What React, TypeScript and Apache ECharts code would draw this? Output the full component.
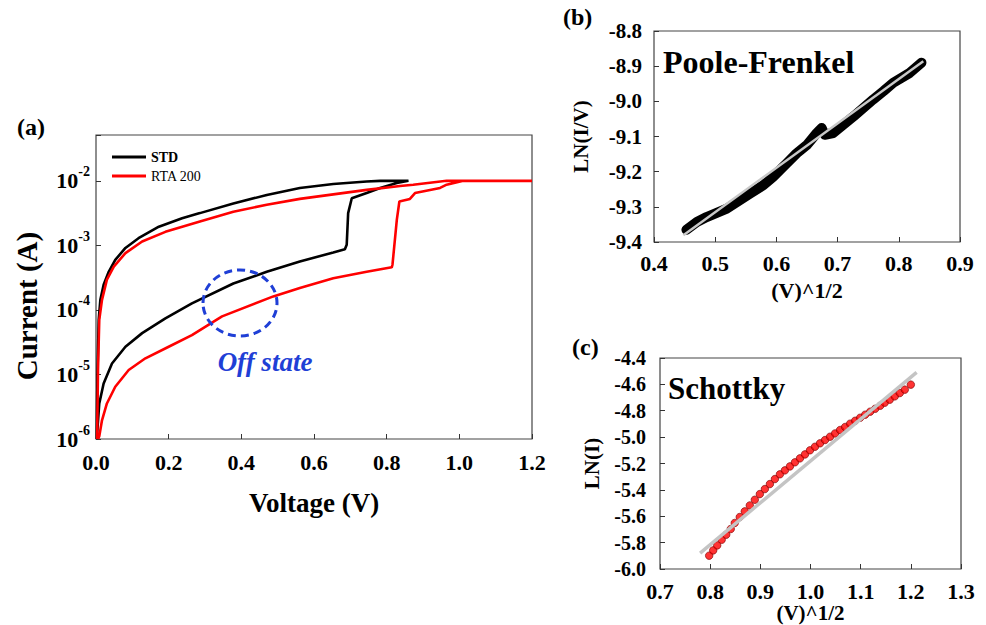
import React, { useEffect, useRef } from 'react';
import * as echarts from 'echarts';

// ---------- Panel (a): I–V sweeps (voltage in V, current in A) ----------
const stdUpV = [0.002, 0.009, 0.021, 0.044, 0.081, 0.127, 0.191, 0.264, 0.378, 0.470, 0.561, 0.653, 0.685, 0.690, 0.694, 0.704, 0.745, 0.782, 0.828, 0.860];
const stdUpI = [1.0e-6, 3.55e-6, 7.24e-6, 1.48e-5, 2.69e-5, 4.37e-5, 7.41e-5, 1.26e-4, 2.57e-4, 3.89e-4, 5.62e-4, 7.76e-4, 8.71e-4, 1.02e-3, 3.16e-3, 5.37e-3, 6.46e-3, 7.76e-3, 9.23e-3, 1.0e-2];
const stdDownV = [0.860, 0.782, 0.745, 0.653, 0.561, 0.470, 0.378, 0.286, 0.237, 0.173, 0.117, 0.081, 0.053, 0.035, 0.021, 0.012, 0.0074, 0.004, 0.002];
const stdDownI = [1.0e-2, 1.0e-2, 9.77e-3, 8.91e-3, 7.76e-3, 6.03e-3, 4.47e-3, 3.16e-3, 2.63e-3, 1.95e-3, 1.29e-3, 9.12e-4, 5.96e-4, 3.89e-4, 2.45e-4, 1.43e-4, 7.0e-5, 1.0e-5, 1.0e-6];

const rtaUpV = [0.006, 0.009, 0.0165, 0.030, 0.053, 0.090, 0.136, 0.200, 0.264, 0.347, 0.488, 0.561, 0.653, 0.745, 0.814, 0.816, 0.828, 0.835, 0.864, 0.878, 0.947, 0.965, 1.011, 1.200];
const rtaUpI = [1.0e-6, 1.1e-6, 1.95e-6, 3.55e-6, 6.46e-6, 1.17e-5, 1.78e-5, 2.69e-5, 4.07e-5, 7.94e-5, 1.62e-4, 2.19e-4, 3.09e-4, 3.89e-4, 4.57e-4, 5.01e-4, 2.51e-3, 4.79e-3, 5.25e-3, 6.46e-3, 7.76e-3, 8.71e-3, 1.0e-2, 1.0e-2];
const rtaDownV = [1.200, 0.965, 0.873, 0.837, 0.745, 0.653, 0.561, 0.470, 0.378, 0.286, 0.191, 0.127, 0.081, 0.049, 0.030, 0.0165, 0.009, 0.0055, 0.003];
const rtaDownI = [1.0e-2, 1.0e-2, 8.71e-3, 8.32e-3, 7.24e-3, 6.17e-3, 5.25e-3, 4.27e-3, 3.31e-3, 2.34e-3, 1.62e-3, 1.15e-3, 7.59e-4, 4.68e-4, 2.95e-4, 1.43e-4, 7.0e-5, 1.17e-5, 1.0e-6];

// ---------- Panel (b): Poole-Frenkel ----------
const pfX = [0.453, 0.470, 0.486, 0.519, 0.557, 0.579, 0.595, 0.617, 0.633, 0.650, 0.666, 0.674, 0.679, 0.693, 0.726, 0.742, 0.758, 0.775, 0.791, 0.818, 0.837];
const pfY = [-9.365, -9.343, -9.329, -9.305, -9.262, -9.238, -9.214, -9.176, -9.148, -9.124, -9.090, -9.076, -9.095, -9.090, -9.043, -9.019, -8.995, -8.971, -8.947, -8.919, -8.890];
const pfFitX = [0.448, 0.840];
const pfFitY = [-9.381, -8.886];

// ---------- Panel (c): Schottky ----------
const skX = [0.798, 0.806, 0.814, 0.823, 0.832, 0.841, 0.849, 0.859, 0.869, 0.879, 0.889, 0.899, 0.909, 0.919, 0.929, 0.939, 0.949, 0.959, 0.969, 0.979, 0.989, 0.999, 1.009, 1.019, 1.029, 1.039, 1.049, 1.059, 1.069, 1.079, 1.089, 1.099, 1.109, 1.119, 1.129, 1.139, 1.148, 1.158, 1.168, 1.178, 1.188, 1.200];
const skY = [-5.899, -5.859, -5.821, -5.778, -5.740, -5.697, -5.651, -5.606, -5.563, -5.518, -5.475, -5.432, -5.394, -5.356, -5.318, -5.282, -5.252, -5.222, -5.191, -5.161, -5.131, -5.100, -5.073, -5.047, -5.022, -4.997, -4.972, -4.946, -4.923, -4.898, -4.876, -4.853, -4.830, -4.807, -4.785, -4.762, -4.739, -4.716, -4.691, -4.666, -4.640, -4.602];
const skFitX = [0.780, 1.2115];
const skFitY = [-5.879, -4.509];

// axis titles
const xTitleA = 'Voltage (V)';
const xTitleB = '(V)^1/2';
const yTitleB = 'LN(I/V)';
const xTitleC = '(V)^1/2';
const yTitleC = 'LN(I)';

const FONT = 'Liberation Serif';

const zip = (xs: number[], ys: number[]) => xs.map((x, i) => [x, ys[i]]);

export default function App() {
  const ref = useRef<HTMLDivElement>(null);

  useEffect(() => {
    if (!ref.current) return;
    const chart = echarts.init(ref.current, undefined, { renderer: 'svg' });

    const tick = { inside: true, length: 5, lineStyle: { color: '#333', width: 1 } };
    const grid = (left: number, top: number, width: number, height: number) => ({
      left, top, width, height, show: true, borderColor: '#444', borderWidth: 1.2,
      containLabel: false, outerBoundsMode: 'none',
    });
    const rs = (size: number, lh?: number) => ({
      fontFamily: FONT, fontWeight: 'bold', fontSize: size, color: '#000', ...(lh ? { lineHeight: lh } : {}),
    });
    const lbl = (size: number, margin: number) => ({
      margin,
      formatter: (v: number) => `{t|${v.toFixed(1)}}`,
      rich: { t: rs(size) },
    });
    const nameStyle = (size: number, lh?: number) => ({ rich: { t: rs(size, lh) } });

    const option: any = {
      animation: false,
      backgroundColor: '#fff',
      textStyle: { fontFamily: FONT },
      grid: [grid(96, 135, 436, 304), grid(654, 31, 306, 211), grid(660, 358, 301, 211)],
      legend: {
        orient: 'vertical', left: 107, top: 145, itemWidth: 34, itemHeight: 3, itemGap: 5, icon: 'rect',
        textStyle: { fontFamily: FONT, fontSize: 14, color: '#000', lineHeight: 14 },
        data: [
          { name: 'STD', textStyle: { fontWeight: 'bold' } },
          { name: 'RTA 200' },
        ],
      },
      xAxis: [
        {
          gridIndex: 0, type: 'value', min: 0, max: 1.2, interval: 0.2,
          axisLine: { show: false }, axisTick: tick, splitLine: { show: false },
          axisLabel: lbl(22, 12),
          name: `{t|${xTitleA}}`, nameLocation: 'middle', nameGap: 50, nameTextStyle: nameStyle(27),
        },
        {
          gridIndex: 1, type: 'value', min: 0.4, max: 0.9, interval: 0.1,
          axisLine: { show: false }, axisTick: tick, splitLine: { show: false },
          axisLabel: lbl(22, 10),
          name: `{t|${xTitleB}}`, nameLocation: 'middle', nameGap: 37, nameTextStyle: nameStyle(22),
        },
        {
          gridIndex: 2, type: 'value', min: 0.7, max: 1.3, interval: 0.1,
          axisLine: { show: false }, axisTick: tick, splitLine: { show: false },
          axisLabel: lbl(22, 11),
          name: `{t|${xTitleC}}`, nameLocation: 'middle', nameGap: 32, nameTextStyle: nameStyle(21, 20),
        },
      ],
      yAxis: [
        {
          gridIndex: 0, type: 'log', logBase: 10, min: 1e-6, max: 0.0513,
          axisLine: { show: false }, axisTick: tick, splitLine: { show: false }, minorTick: { show: false },
          axisLabel: {
            margin: 6,
            formatter: (v: number) => {
              const l = Math.log10(v);
              const e = Math.round(l);
              if (Math.abs(l - e) > 0.01) return '';
              return `{b|10}{s|${e}}`;
            },
            rich: {
              b: { fontFamily: FONT, fontWeight: 'bold', fontSize: 22, lineHeight: 32, color: '#000' },
              s: { fontFamily: FONT, fontWeight: 'bold', fontSize: 14, lineHeight: 14, verticalAlign: 'top', color: '#000' },
            },
          },
        },
        {
          gridIndex: 1, type: 'value', min: -9.4, max: -8.8, interval: 0.1,
          axisLine: { show: false }, axisTick: tick, splitLine: { show: false },
          axisLabel: lbl(21, 12),
          name: `{t|${yTitleB}}`, nameLocation: 'middle', nameRotate: 90, nameGap: 63, nameTextStyle: nameStyle(21),
        },
        {
          gridIndex: 2, type: 'value', min: -6.0, max: -4.4, interval: 0.2,
          axisLine: { show: false }, axisTick: tick, splitLine: { show: false },
          axisLabel: lbl(20, 14),
          name: `{t|${yTitleC}}`, nameLocation: 'middle', nameRotate: 90, nameGap: 58, nameTextStyle: nameStyle(21),
        },
      ],
      series: [
        {
          name: 'STD', type: 'line', xAxisIndex: 0, yAxisIndex: 0, symbol: 'none',
          lineStyle: { color: '#000', width: 2.6 }, itemStyle: { color: '#000' },
          data: zip(stdUpV.concat(stdDownV), stdUpI.concat(stdDownI)),
        },
        {
          name: 'RTA 200', type: 'line', xAxisIndex: 0, yAxisIndex: 0, symbol: 'none',
          lineStyle: { color: '#ff0000', width: 2.6 }, itemStyle: { color: '#ff0000' },
          data: zip(rtaUpV.concat(rtaDownV), rtaUpI.concat(rtaDownI)),
        },
        {
          name: 'PF data', type: 'line', xAxisIndex: 1, yAxisIndex: 1, symbol: 'none',
          itemStyle: { color: '#000' }, lineStyle: { color: '#000', width: 10, cap: 'round', join: 'round' },
          data: zip(pfX, pfY),
        },
        {
          name: 'PF fit', type: 'line', xAxisIndex: 1, yAxisIndex: 1, symbol: 'none',
          lineStyle: { color: '#c8c8c8', width: 2.5 }, data: zip(pfFitX, pfFitY),
        },
        {
          name: 'Schottky fit', type: 'line', xAxisIndex: 2, yAxisIndex: 2, symbol: 'none',
          lineStyle: { color: '#c4c4c4', width: 3.5 }, data: zip(skFitX, skFitY),
        },
        {
          name: 'Schottky data', type: 'scatter', xAxisIndex: 2, yAxisIndex: 2, symbol: 'circle', symbolSize: 7.5,
          itemStyle: { color: '#ff0000', borderColor: '#7a0000', borderWidth: 0.8 },
          data: zip(skX, skY),
        },
      ],
      graphic: [
        { type: 'text', left: 17, top: 115, style: { text: '(a)', font: `bold 24px ${FONT}`, fill: '#000' } },
        { type: 'text', left: 563, top: 5, style: { text: '(b)', font: `bold 24px ${FONT}`, fill: '#000' } },
        { type: 'text', left: 572, top: 335, style: { text: '(c)', font: `bold 24px ${FONT}`, fill: '#000' } },
        {
          type: 'text', x: 27, y: 306, rotation: Math.PI / 2,
          style: { text: 'Current (A)', font: `bold 29px ${FONT}`, fill: '#000', align: 'center', verticalAlign: 'middle' },
        },
        { type: 'text', x: 663, y: 62, style: { text: 'Poole-Frenkel', font: `bold 32px ${FONT}`, fill: '#000', verticalAlign: 'middle' } },
        { type: 'text', x: 668, y: 388, style: { text: 'Schottky', font: `bold 31px ${FONT}`, fill: '#000', verticalAlign: 'middle' } },
        {
          type: 'text', x: 265, y: 362, z: 100,
          style: { text: 'Off state', font: `italic bold 27px ${FONT}`, fill: '#1f3fd6', align: 'center', verticalAlign: 'middle' },
        },
        {
          type: 'ellipse', z: 100, shape: { cx: 240, cy: 303, rx: 37, ry: 33 },
          style: { fill: 'none', stroke: '#1f3fd6', lineWidth: 3, lineDash: [8, 5] },
        },
      ],
    };

    chart.setOption(option);
    return () => chart.dispose();
  }, []);

  return <div ref={ref} style={{ position: 'fixed', left: 0, top: 0, width: 986, height: 625, background: '#fff' }} />;
}
